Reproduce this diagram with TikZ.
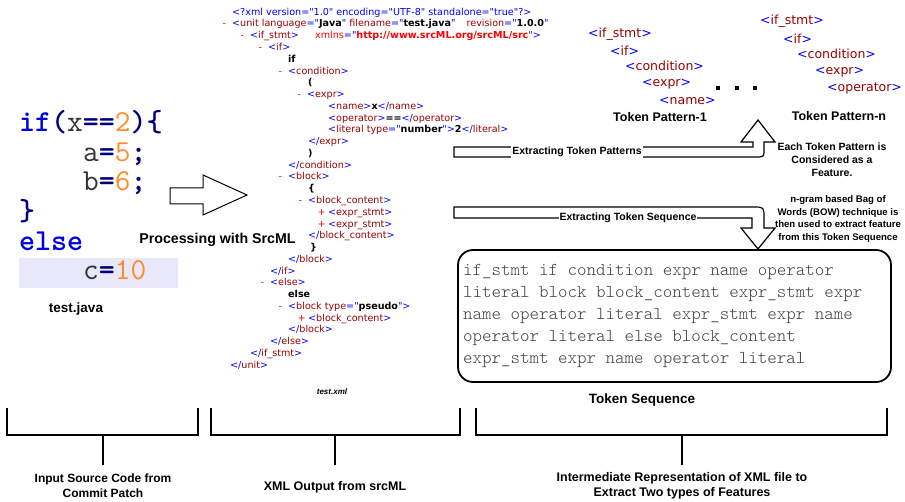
\documentclass[tikz,border=0pt]{standalone}
\usepackage{fontspec}
\setmainfont{Liberation Sans}
\newfontfamily\xmlfont[Ligatures=TeXOff]{DejaVu Sans}
\newfontfamily\lblfont{Liberation Sans}
\usetikzlibrary{calc}

\definecolor{xblue}{HTML}{0000FF}
\definecolor{xdred}{HTML}{990000}
\definecolor{xred}{HTML}{FF0000}
\definecolor{kwblue}{HTML}{0000E0}
\definecolor{opnavy}{HTML}{000080}
\definecolor{numorange}{HTML}{FF8C28}
\definecolor{idgrey}{HTML}{333333}
\definecolor{codebg}{HTML}{E8E8FA}
\definecolor{seqgrey}{HTML}{404040}

% xml tags
\newcommand{\xo}[1]{\textcolor{xblue}{<}\textcolor{xdred}{#1}\textcolor{xblue}{>}}
\newcommand{\xc}[1]{\textcolor{xblue}{</}\textcolor{xdred}{#1}\textcolor{xblue}{>}}
\newcommand{\xa}[2]{\textcolor{xdred}{#1}\textcolor{xblue}{="}\textbf{#2}\textcolor{xblue}{"}}
\newcommand{\xminus}{\llap{\textcolor{xred}{-}\hspace{6pt}}}
\newcommand{\xplus}{\llap{\textcolor{xred}{+}\hspace{2.5pt}}}
% java code
\newcommand{\ckw}[1]{\textcolor{kwblue}{\bfseries #1}}
\newcommand{\cop}[1]{\textcolor{opnavy}{\bfseries #1}}
\newcommand{\cnum}[1]{\textcolor{numorange}{#1}}
\newcommand{\cid}[1]{\textcolor{idgrey}{#1}}
\newcommand{\lblsize}[2]{\lblfont\bfseries\fontsize{#1}{#2}\selectfont}

\begin{document}
\begin{tikzpicture}[x=1pt, y=-1pt]
 \tikzstyle{code}=[anchor=base west, inner sep=0pt, font=\ttfamily\fontsize{30.5}{34}\selectfont]
 \tikzstyle{xml}=[anchor=base west, inner sep=0pt, font=\xmlfont\fontsize{9.6}{11}\selectfont]
 \tikzstyle{pat}=[anchor=base west, inner sep=0pt, font=\xmlfont\fontsize{12.5}{14}\selectfont]
 \tikzstyle{lbl}=[inner sep=0pt, align=center]
 \tikzstyle{onarrow}=[inner sep=1pt, fill=white]
 \tikzstyle{hollow}=[draw, line width=1pt, fill=white, line join=miter]
 \tikzstyle{bracket}=[line width=1.8pt, line join=miter]
 \tikzstyle{seqbox}=[draw, line width=1.8pt, rounded corners=15pt, minimum width=433pt, minimum height=132pt]

 \useasboundingbox (0,0) rectangle (905,502);

 % Java source
 \node (ncbox) at (98.5,273) [fill=codebg, minimum width=159pt, minimum height=30pt, inner sep=0pt] {};
 \node (ncif) at (19,131.5) [code] {\ckw{if}\cop{(}\cid{x}\cop{==}\cnum{2}\cop{)\{}};
 \node (nca) at (83,161.2) [code] {\cid{a}\cop{=}\cnum{5}\cop{;}};
 \node (ncb) at (83,190.9) [code] {\cid{b}\cop{=}\cnum{6}\cop{;}};
 \node (ncclose) at (19,220.6) [code] {\cop{\}}};
 \node (ncelse) at (19,250.3) [code] {\ckw{else}};
 \node (ncc) at (83,280) [code] {\cid{c}\cop{=}\cnum{10}};
 \node (ntestjava) at (76,309) [lbl, font=\lblsize{13.5}{15}] {test.java};

 % srcML step
 \draw [hollow] (170,188) -- (203,188) -- (203,175) -- (247,195) -- (203,215) -- (203,204) -- (170,204) -- cycle;
 \node (nproc) at (217.5,240) [lbl, font=\lblsize{14.2}{16}] {Processing with SrcML};

 % XML output
 \begin{scope}[shift={(0,15.2)}, y=-11.77pt]
 \node (nxdecl) at (232,0) [xml] {\textcolor{xblue}{<?xml version="1.0" encoding="UTF-8" standalone="true"?>}};
 \node (nxunit) at (232,1) [xml] {\xminus\textcolor{xblue}{<}\textcolor{xdred}{unit} \xa{language}{Java} \xa{filename}{test.java}\hspace{8pt} \xa{revision}{1.0.0}};
 \node (nxifstmt) at (250,2) [xml] {\xminus\xo{if\_stmt}};
 \node (nxns) at (315,2) [xml] {\textcolor{xred}{xmlns}\textcolor{xblue}{="}\textcolor{xred}{\textbf{http://www.srcML.org/srcML/src}}\textcolor{xblue}{">}};
 \node (nxif) at (268,3) [xml] {\xminus\xo{if}};
 \node (nxiftxt) at (288,4) [xml] {\textbf{if}};
 \node (nxcond) at (288,5) [xml] {\xminus\xo{condition}};
 \node (nxlpar) at (308,6) [xml] {\textbf{(}};
 \node (nxexpr) at (307,7) [xml] {\xminus\xo{expr}};
 \node (nxname) at (328,8) [xml] {\xo{name}\textbf{x}\xc{name}};
 \node (nxop) at (328,9) [xml] {\xo{operator}\textbf{==}\xc{operator}};
 \node (nxlit) at (328,10) [xml] {\textcolor{xblue}{<}\textcolor{xdred}{literal} \xa{type}{number}\textcolor{xblue}{>}\textbf{2}\xc{literal}};
 \node (nxexprend) at (308,11) [xml] {\xc{expr}};
 \node (nxrpar) at (308,12) [xml] {\textbf{)}};
 \node (nxcondend) at (288,13) [xml] {\xc{condition}};
 \node (nxblock) at (288,14) [xml] {\xminus\xo{block}};
 \node (nxlbrace) at (308,15) [xml] {\textbf{\{}};
 \node (nxbc) at (308,16) [xml] {\xminus\xo{block\_content}};
 \node (nxes1) at (328,17) [xml] {\xplus\xo{expr\_stmt}};
 \node (nxes2) at (328,18) [xml] {\xplus\xo{expr\_stmt}};
 \node (nxbcend) at (308,19) [xml] {\xc{block\_content}};
 \node (nxrbrace) at (310,20) [xml] {\textbf{\}}};
 \node (nxblockend) at (288,21) [xml] {\xc{block}};
 \node (nxifend) at (270,22) [xml] {\xc{if}};
 \node (nxelse) at (270,23) [xml] {\xminus\xo{else}};
 \node (nxelsetxt) at (288,24) [xml] {\textbf{else}};
 \node (nxpseudo) at (288,25) [xml] {\xminus\textcolor{xblue}{<}\textcolor{xdred}{block} \xa{type}{pseudo}\textcolor{xblue}{>}};
 \node (nxbc2) at (308,26) [xml] {\xplus\xo{block\_content}};
 \node (nxblock2end) at (288,27) [xml] {\xc{block}};
 \node (nxelseend) at (270,28) [xml] {\xc{else}};
 \node (nxifstmtend) at (250,29) [xml] {\xc{if\_stmt}};
 \node (nxunitend) at (230,30) [xml] {\xc{unit}};
 \end{scope}
 \node (ntestxml) at (332,392) [lbl, font=\lblfont\bfseries\itshape\fontsize{8}{9}\selectfont] {test.xml};

 % Token patterns
 \node (np1ifstmt) at (588,37.8) [pat] {\xo{if\_stmt}};
 \node (np1if) at (610,55.8) [pat] {\xo{if}};
 \node (np1cond) at (625,70.8) [pat] {\xo{condition}};
 \node (np1expr) at (642,86.8) [pat] {\xo{expr}};
 \node (np1name) at (659,104.8) [pat] {\xo{name}};
 \node (np1) at (660,117) [lbl, font=\lblsize{12.5}{14}] {Token Pattern-1};

 \fill (716.2,86.2) rectangle +(3.6,3.6);
 \fill (735.2,86.2) rectangle +(3.6,3.6);
 \fill (753.2,86.2) rectangle +(3.6,3.6);

 \node (npnifstmt) at (760,24.8) [pat] {\xo{if\_stmt}};
 \node (npnif) at (783,43.1) [pat] {\xo{if}};
 \node (npncond) at (797,58.1) [pat] {\xo{condition}};
 \node (npnexpr) at (815,74.8) [pat] {\xo{expr}};
 \node (npnop) at (827,91.4) [pat] {\xo{operator}};
 \node (npn) at (839,116) [lbl, font=\lblsize{12.5}{14}] {Token Pattern-n};

 % Extracting arrows
 \draw [hollow, line width=1.2pt] (454,147) -- (753,147) -- (753,142) -- (741,142) -- (758,120) -- (775,142) -- (764,142) -- (764,149) .. controls (764,157) .. (756,157) -- (454,157) -- cycle;
 \node (nextpat) at (577,152) [onarrow, font=\lblsize{10.5}{12}] {Extracting Token Patterns};
 \node (nfeat) at (832,160) [lbl, font=\lblsize{10.5}{13}] {Each Token Pattern is\\Considered as a\\Feature.};

 \draw [hollow, line width=1.2pt] (454,207) -- (753,207) .. controls (764,207) .. (764,218) -- (764,228) -- (775,228) -- (758,249) -- (741,228) -- (752,228) -- (752,218) -- (454,218) -- cycle;
 \node (nextseq) at (628,218) [onarrow, font=\lblsize{10.5}{12}] {Extracting Token Sequence};
 \node (nbow) at (838,219) [lbl, font=\lblsize{9.6}{12.7}] {n-gram based Bag of\\Words (BOW) technique is\\then used to extract feature\\from this Token Sequence};

 % Token sequence
 \node (ntokseq) at (674.5,316) [seqbox] {};
 \node (ntokens) at (463,316) [anchor=west, inner sep=0pt, align=left, text=seqgrey, font=\ttfamily\fontseries{l}\fontsize{18.1}{22}\selectfont] {if\_stmt if condition expr name operator\\literal block block\_content expr\_stmt expr\\name operator literal expr\_stmt expr name\\operator literal else block\_content\\expr\_stmt expr name operator literal};
 \node (nseqlbl) at (642,400) [lbl, font=\lblsize{13.5}{15}] {Token Sequence};

 % Brackets
 \coordinate (nb1l) at (7,408);
 \coordinate (nb1r) at (198,408);
 \coordinate (nb1m) at (103,435);
 \coordinate (nb1s) at (103,465);
 \coordinate (nb2l) at (211,408);
 \coordinate (nb2r) at (460,408);
 \coordinate (nb2m) at (335,435);
 \coordinate (nb2s) at (335,465);
 \coordinate (nb3l) at (476,408);
 \coordinate (nb3r) at (887,408);
 \coordinate (nb3m) at (682,435);
 \coordinate (nb3s) at (682,465);
 \draw [bracket] (nb1l) -- (nb1l |- nb1m) -- (nb1r |- nb1m) -- (nb1r);
 \draw [bracket] (nb1m) -- (nb1s);
 \draw [bracket] (nb2l) -- (nb2l |- nb2m) -- (nb2r |- nb2m) -- (nb2r);
 \draw [bracket] (nb2m) -- (nb2s);
 \draw [bracket] (nb3l) -- (nb3l |- nb3m) -- (nb3r |- nb3m) -- (nb3r);
 \draw [bracket] (nb3m) -- (nb3s);

 \node (ninput) at (103,486) [lbl, font=\lblsize{12}{15}] {Input Source Code from\\Commit Patch};
 \node (nxmlout) at (335,487) [lbl, font=\lblsize{12.5}{15}] {XML Output from srcML};
 \node (ninter) at (682,486) [lbl, font=\lblsize{12.5}{15}] {Intermediate Representation of XML file to\\Extract Two types of Features};

\end{tikzpicture}
\end{document}
